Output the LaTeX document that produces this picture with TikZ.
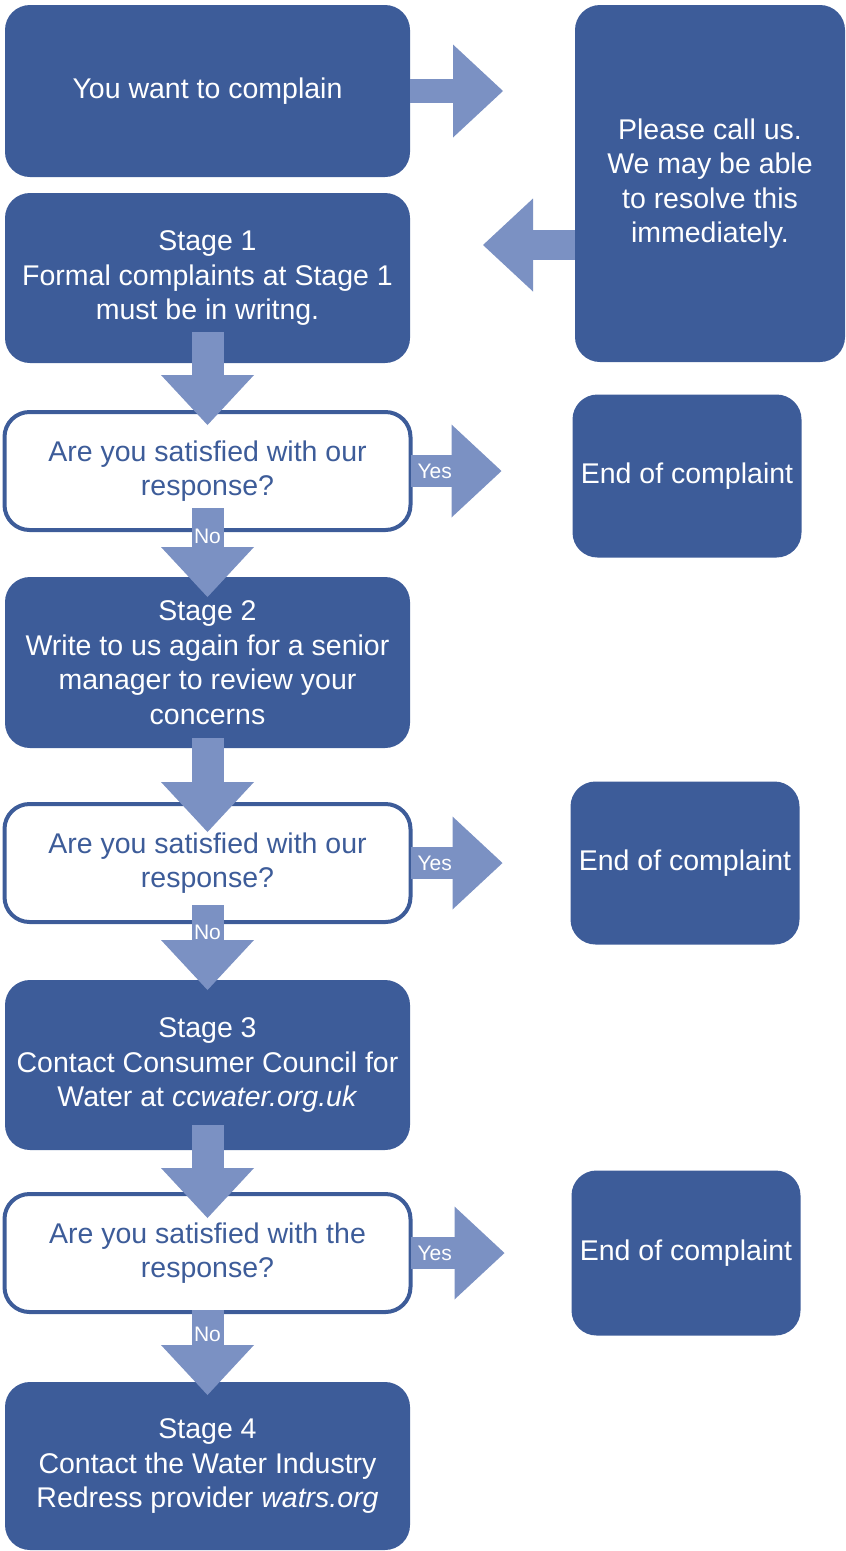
\documentclass[tikz,border=0pt]{standalone}
\usepackage{fontspec}
\setmainfont{Liberation Sans}
\usetikzlibrary{positioning,arrows.meta}

\definecolor{boxblue}{HTML}{3D5C99}
\definecolor{arrowblue}{HTML}{7B91C3}

\tikzset{
  stagebox/.style={fill=boxblue, draw=none, rounded corners=25pt, text=white,
    align=center, minimum width=405pt, outer sep=0pt,
    font=\fontsize{28.5}{34.5}\selectfont},
  askbox/.style={fill=white, draw=boxblue, line width=4pt, rounded corners=25pt,
    text=boxblue, align=center, minimum width=406pt, minimum height=118pt,
    outer sep=0pt, font=\fontsize{28.5}{34.5}\selectfont},
  endbox/.style={stagebox, minimum width=229pt, minimum height=163pt},
  flowarrow/.style={draw=arrowblue, line width=32pt,
    -{Triangle[length=50pt, width=93pt, line width=0pt]}},
  answer/.style={text=white, inner sep=1pt, font=\fontsize{21}{23}\selectfont},
}

\begin{document}
\begin{tikzpicture}[x=1pt, y=1pt]
  \useasboundingbox (0,0) rectangle (846,-1551);

  \node[stagebox, minimum height=172pt] (want) at (207.5,-91) {You want to complain};
  \node[stagebox, minimum width=270pt, minimum height=357pt,
    right=165pt of want.north east, anchor=north west] (call)
    {Please call us.\\We may be able\\to resolve this\\immediately.};
  \node[stagebox, minimum height=170pt, below=16pt of want] (stage1)
    {Stage 1\\Formal complaints at Stage 1\\must be in writng.};
  \node[askbox, below=49pt of stage1] (ask1) {Are you satisfied with our\\response?};
  \node[endbox, right=162pt of ask1, yshift=-5pt] (end1) {End of complaint};
  \node[stagebox, minimum height=171pt, below=47pt of ask1] (stage2)
    {Stage 2\\Write to us again for a senior\\manager to review your\\concerns};
  \node[askbox, below=56pt of stage2] (ask2) {Are you satisfied with our\\response?};
  \node[endbox, right=160pt of ask2] (end2) {End of complaint};
  \node[stagebox, minimum height=170pt, below=58pt of ask2] (stage3)
    {Stage 3\\Contact Consumer Council for\\Water at \textit{ccwater.org.uk}};
  \node[askbox, below=44pt of stage3] (ask3) {Are you satisfied with the\\response?};
  \node[endbox, minimum height=165pt, right=161pt of ask3] (end3) {End of complaint};
  \node[stagebox, minimum height=168pt, below=70pt of ask3] (stage4)
    {Stage 4\\Contact the Water Industry\\Redress provider \textit{watrs.org}};

  \draw[flowarrow, line width=24pt] (want.east) -- ++(93,0);
  \draw[flowarrow, line width=30pt] ([yshift=-61.5pt]call.west) -- ++(-92,0);

  \draw[flowarrow] ([yshift=31pt]stage1.south) -- ([yshift=-13pt]ask1.north);
  \draw[flowarrow] (ask1.east) -- ++(91,0)
    node[answer, pos=0, anchor=west, xshift=-10pt] {Yes};
  \draw[flowarrow] ([yshift=22pt]ask1.south) -- ([yshift=-20pt]stage2.north)
    node[answer, pos=0.32] {No};

  \draw[flowarrow] ([yshift=10pt]stage2.south) -- ([yshift=-28pt]ask2.north);
  \draw[flowarrow] (ask2.east) -- ++(92,0)
    node[answer, pos=0, anchor=west, xshift=-10pt] {Yes};
  \draw[flowarrow] ([yshift=17pt]ask2.south) -- ([yshift=-10pt]stage3.north)
    node[answer, pos=0.32] {No};

  \draw[flowarrow] ([yshift=25pt]stage3.south) -- ([yshift=-24pt]ask3.north);
  \draw[flowarrow] (ask3.east) -- ++(94,0)
    node[answer, pos=0, anchor=west, xshift=-10pt] {Yes};
  \draw[flowarrow] ([yshift=2pt]ask3.south) -- ([yshift=-13pt]stage4.north)
    node[answer, pos=0.29] {No};
\end{tikzpicture}
\end{document}
